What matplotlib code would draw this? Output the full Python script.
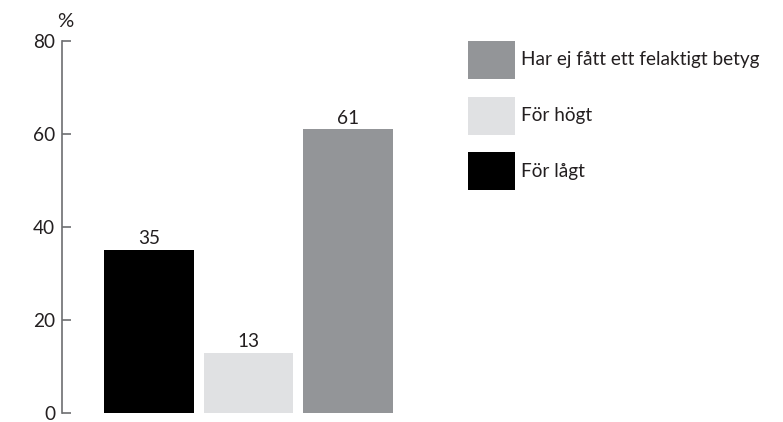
import matplotlib
matplotlib.use('Agg')
import matplotlib.pyplot as plt
import matplotlib.patches as patches

plt.rcParams['font.family'] = ['Lato', 'DejaVu Sans']

# data
categories = ['För lågt', 'För högt', 'Har ej fått ett felaktigt betyg']
values = [35, 13, 61]
colors = ['#000000', '#e0e1e3', '#939598']
legend_order = [2, 1, 0]
yticks = [0, 20, 40, 60, 80]

W, H = 783, 422
fs = 13.7
txt = '#231f20'
fig = plt.figure(figsize=(W / 100, H / 100), dpi=100)
ax = fig.add_axes([62 / W, 9 / H, 346 / W, 372 / H])

bars = ax.bar(range(len(values)), values, width=0.9, color=colors)
ax.bar_label(bars, labels=[str(v) for v in values], padding=2, fontsize=fs, color=txt)

ax.set_xlim(-0.874, 2.6)
ax.set_ylim(0, 80)
ax.set_yticks(yticks)
ax.set_xticks([])
for s in ['top', 'right', 'bottom']:
    ax.spines[s].set_visible(False)
ax.spines['left'].set_color('#6d6e71')
ax.spines['left'].set_linewidth(1.2)
ax.tick_params(axis='y', direction='in', length=6.5, width=1.2, color='#6d6e71',
               labelsize=fs, labelcolor=txt, pad=5)
ax.text(-0.015, 1.03, '%', transform=ax.transAxes, fontsize=fs + 1, color=txt,
        ha='left', va='bottom')

# legend, drawn by hand: one square and label per row
row_tops = [41, 97, 152]
for top, i in zip(row_tops, legend_order):
    fig.patches.append(patches.Rectangle((468 / W, 1 - (top + 38) / H), 47 / W, 38 / H,
                                         transform=fig.transFigure, facecolor=colors[i],
                                         edgecolor='none'))
    fig.text(521 / W, 1 - (top + 19) / H, categories[i], fontsize=fs, color=txt,
             ha='left', va='center')

fig.savefig('out.png', dpi=100)
